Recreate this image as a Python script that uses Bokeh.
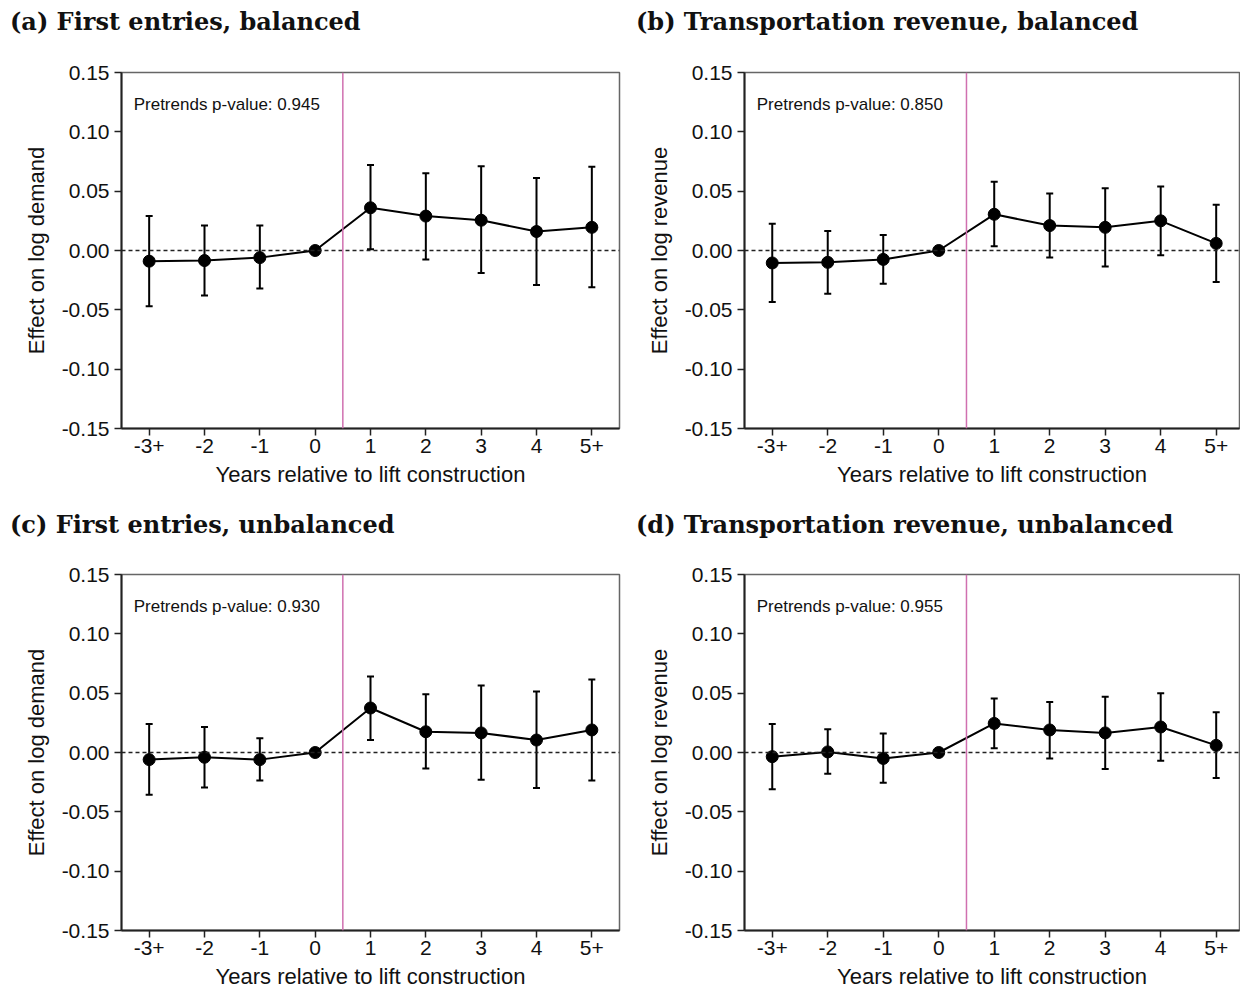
import math
from bokeh.plotting import figure
from bokeh.layouts import row, column
from bokeh.models import (Range1d, FixedTicker, NumeralTickFormatter, Span, Label,
                          Whisker, TeeHead, ColumnDataSource, Div)
from bokeh.embed import file_html
from bokeh.resources import INLINE

nan = float("nan")

categories = ["-3+", "-2", "-1", "0", "1", "2", "3", "4", "5+"]
y_ticks = [-0.15, -0.10, -0.05, 0.0, 0.05, 0.10, 0.15]

# (a) First entries, balanced
a_coef = [-0.009, -0.0085, -0.006, 0.0, 0.036, 0.029, 0.0255, 0.016, 0.0195]
a_lo = [-0.047, -0.038, -0.032, nan, 0.001, -0.0075, -0.019, -0.029, -0.031]
a_hi = [0.029, 0.021, 0.021, nan, 0.072, 0.065, 0.071, 0.061, 0.0705]

# (b) Transportation revenue, balanced
b_coef = [-0.0105, -0.010, -0.0075, 0.0, 0.0305, 0.021, 0.0195, 0.025, 0.006]
b_lo = [-0.0435, -0.0365, -0.028, nan, 0.0035, -0.006, -0.0135, -0.004, -0.0265]
b_hi = [0.0225, 0.0165, 0.013, nan, 0.058, 0.048, 0.0525, 0.054, 0.0385]

# (c) First entries, unbalanced
c_coef = [-0.006, -0.004, -0.006, 0.0, 0.0375, 0.0175, 0.0165, 0.0105, 0.019]
c_lo = [-0.0355, -0.0295, -0.0235, nan, 0.0105, -0.0135, -0.023, -0.030, -0.0235]
c_hi = [0.024, 0.0215, 0.012, nan, 0.064, 0.049, 0.0565, 0.0515, 0.0615]

# (d) Transportation revenue, unbalanced
d_coef = [-0.0035, 0.0005, -0.005, 0.0, 0.0245, 0.019, 0.0165, 0.0215, 0.006]
d_lo = [-0.031, -0.018, -0.0255, nan, 0.0035, -0.005, -0.014, -0.007, -0.0215]
d_hi = [0.024, 0.0195, 0.016, nan, 0.0455, 0.0425, 0.047, 0.050, 0.034]

titles = ["(a) First entries, balanced", "(b) Transportation revenue, balanced",
          "(c) First entries, unbalanced", "(d) Transportation revenue, unbalanced"]
ylabels = ["Effect on log demand", "Effect on log revenue",
           "Effect on log demand", "Effect on log revenue"]
pvalues = ["0.945", "0.850", "0.930", "0.955"]
xlabel = "Years relative to lift construction"

SANS = "Liberation Sans"
SERIF = "DejaVu Serif"
FRAME_H = 356


def make_panel(ylabel, pval, coef, lo, hi, left, right, top, bottom, frame_w, x_end):
    xs = list(range(len(categories)))
    p = figure(frame_width=frame_w, frame_height=FRAME_H,
               x_range=Range1d(-0.5, x_end), y_range=Range1d(-0.15, 0.15),
               output_backend="svg", toolbar_location=None,
               min_border_left=left, min_border_right=right,
               min_border_top=top, min_border_bottom=bottom)

    p.xgrid.visible = False
    p.ygrid.visible = False
    p.outline_line_color = "#666666"
    p.outline_line_width = 1.5
    p.background_fill_color = "white"
    p.border_fill_color = "white"

    for ax in (p.xaxis[0], p.yaxis[0]):
        ax.axis_line_color = "#222222"
        ax.axis_line_width = 2
        ax.major_tick_line_color = "#222222"
        ax.major_tick_line_width = 1.5
        ax.major_tick_in = 0
        ax.major_tick_out = 7
        ax.minor_tick_line_color = None
        ax.major_label_text_font = SANS
        ax.major_label_text_font_size = "21px"
        ax.major_label_text_color = "#111111"
        ax.axis_label_text_font = SANS
        ax.axis_label_text_font_size = "22px"
        ax.axis_label_text_font_style = "normal"
        ax.axis_label_text_color = "#111111"

    p.xaxis.ticker = FixedTicker(ticks=xs)
    p.xaxis.major_label_overrides = {i: c for i, c in zip(xs, categories)}
    p.xaxis.axis_label = xlabel
    p.xaxis.major_label_standoff = 3
    p.xaxis.axis_label_standoff = 6

    p.yaxis.ticker = FixedTicker(ticks=y_ticks)
    p.yaxis.formatter = NumeralTickFormatter(format="0.00")
    p.yaxis.axis_label = ylabel
    p.yaxis.major_label_standoff = 5
    p.yaxis.axis_label_standoff = 10

    p.add_layout(Span(location=0, dimension="width", line_color="#222222",
                      line_width=1.5, line_dash="4 3"))
    p.add_layout(Span(location=3.5, dimension="height", line_color="#d070b0",
                      line_width=1.5))

    keep = [i for i in xs if not math.isnan(lo[i])]
    wsrc = ColumnDataSource(dict(x=[xs[i] for i in keep],
                                 lo=[lo[i] for i in keep],
                                 hi=[hi[i] for i in keep]))
    p.add_layout(Whisker(source=wsrc, base="x", lower="lo", upper="hi",
                         line_width=2, line_color="black",
                         upper_head=TeeHead(size=7, line_width=2, line_color="black"),
                         lower_head=TeeHead(size=7, line_width=2, line_color="black")))

    src = ColumnDataSource(dict(x=xs, y=coef))
    p.line("x", "y", source=src, line_width=2, line_color="black")
    p.scatter("x", "y", source=src, size=12, fill_color="black", line_color="black")

    p.add_layout(Label(x=-0.28, y=0.123, text="Pretrends p-value: " + pval,
                       text_font=SANS, text_font_size="17px", text_color="#111111",
                       text_baseline="middle", text_align="left"))
    return p


def heading(text, width, height, pad_left, pad_top):
    html = ('<div style="font-family:\'DejaVu Serif\';font-weight:bold;font-size:24px;'
            'line-height:28px;color:#111111;white-space:nowrap;'
            'padding-left:%dpx;padding-top:%dpx;">%s</div>' % (pad_left, pad_top, text))
    return Div(text=html, width=width, height=height, margin=0)


pa = make_panel(ylabels[0], pvalues[0], a_coef, a_lo, a_hi, 121, 5, 30, 68, 498, 8.5)
pb = make_panel(ylabels[1], pvalues[1], b_coef, b_lo, b_hi, 120, 1, 30, 68, 495, 8.42)
pc = make_panel(ylabels[2], pvalues[2], c_coef, c_lo, c_hi, 121, 5, 28, 58, 498, 8.5)
pd = make_panel(ylabels[3], pvalues[3], d_coef, d_lo, d_hi, 120, 1, 28, 58, 495, 8.42)

ha = heading(titles[0], 624, 42, 10, 8)
hb = heading(titles[1], 616, 42, 12, 8)
hc = heading(titles[2], 624, 50, 10, 15)
hd = heading(titles[3], 616, 50, 12, 15)

layout = column(row(ha, hb, spacing=0),
                row(pa, pb, spacing=0),
                row(hc, hd, spacing=0),
                row(pc, pd, spacing=0), spacing=0)

open("out.html", "w").write(file_html(layout, INLINE))
